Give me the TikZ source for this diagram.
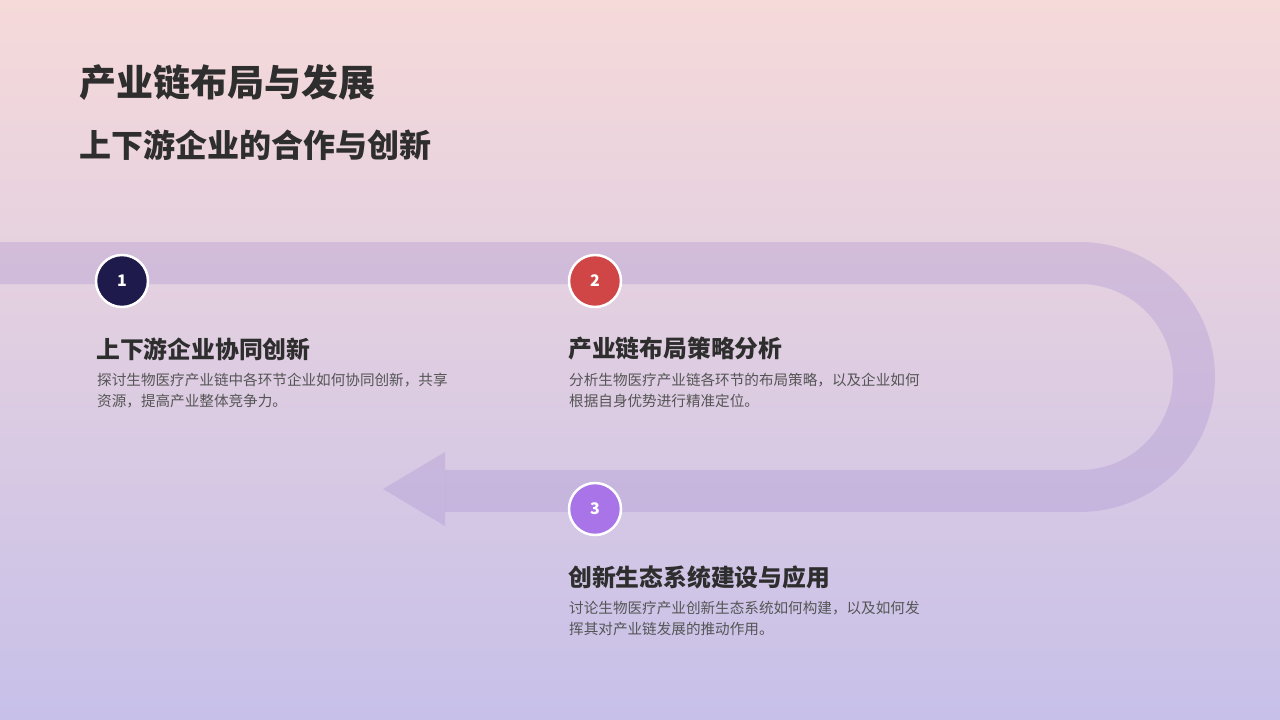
\documentclass[tikz,border=0pt]{standalone}
\usepackage{fontspec}
\setmainfont{Noto Sans CJK SC}
\definecolor{bgtop}{HTML}{F6DADA}
\definecolor{bgbot}{HTML}{C7C0E9}
\definecolor{band}{HTML}{A48CD0}
\definecolor{cA}{HTML}{1E1A4C}
\definecolor{cB}{HTML}{D04646}
\definecolor{cC}{HTML}{A874E8}
\definecolor{tdark}{HTML}{2E2E2E}
\definecolor{tbody}{HTML}{555555}
\tikzset{
 num/.style={circle,fill=#1,draw=white,line width=2.5pt,minimum size=52pt,inner sep=0,text=white,font=\bfseries\fontsize{16}{16}\selectfont},
 head/.style={anchor=west,text=tdark,inner sep=0,font=\bfseries\fontsize{23.8}{24}\selectfont},
 body/.style={anchor=north west,text=tbody,font=\fontsize{14.6}{21}\selectfont,align=left,inner sep=0},
 ttl/.style={anchor=west,text=tdark,inner sep=0}
}
\begin{document}
\begin{tikzpicture}[x=1pt,y=-1pt]
\useasboundingbox (0,0) rectangle (1280,720);
\shade[top color=bgtop,bottom color=bgbot] (0,0) rectangle (1280,720);
\draw[band,opacity=0.3,line width=42pt] (0,263) -- (1080,263) arc[start angle=-90,end angle=90,radius=114] -- (445,491);
\fill[band,opacity=0.3] (445,452) -- (383,489) -- (445,526) -- cycle;
\node[ttl,font=\bfseries\fontsize{37}{37}\selectfont] (t1) at (79,83) {产业链布局与发展};
\node[ttl,font=\bfseries\fontsize{32}{32}\selectfont] (t2) at (79,145) {上下游企业的合作与创新};
\node[num=cA] (n1) at (122,281) {1};
\node[num=cB] (n2) at (595,281) {2};
\node[num=cC] (n3) at (595,509) {3};
\node[head] (h1) at (96,349) {上下游企业协同创新};
\node[body] (b1) at (97,373) {探讨生物医疗产业链中各环节企业如何协同创新，共享\\资源，提高产业整体竞争力。};
\node[head] (h2) at (568,349) {产业链布局策略分析};
\node[body] (b2) at (569,373) {分析生物医疗产业链各环节的布局策略，以及企业如何\\根据自身优势进行精准定位。};
\node[head] (h3) at (568,577) {创新生态系统建设与应用};
\node[body] (b3) at (569,601) {讨论生物医疗产业创新生态系统如何构建，以及如何发\\挥其对产业链发展的推动作用。};
\end{tikzpicture}
\end{document}
